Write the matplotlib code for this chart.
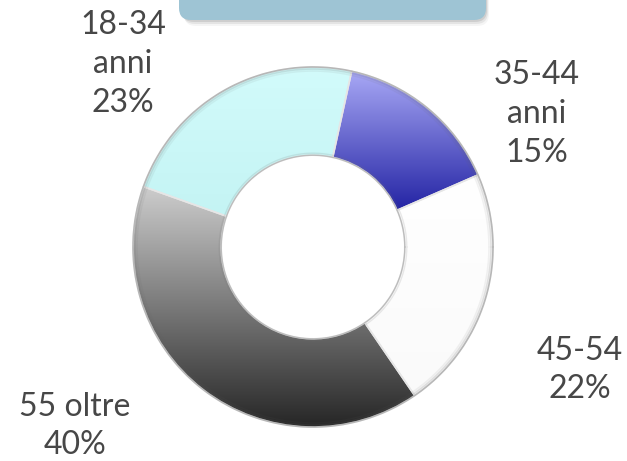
import numpy as np
import matplotlib
matplotlib.use("Agg")
import matplotlib.pyplot as plt
from matplotlib.patches import FancyBboxPatch
from matplotlib.colors import to_rgb

# ---- data ----
labels = ["35-44\nanni", "45-54", "55 oltre", "18-34\nanni"]
values = [15, 22, 40, 23]
pct_labels = ["15%", "22%", "40%", "23%"]
top_colors = ["#a9a9f6", "#ffffff", "#cdcdcd", "#d2fbfb"]
bottom_colors = ["#2424a4", "#fafafa", "#262626", "#c4f4f4"]

W, H = 627, 461
fig = plt.figure(figsize=(W / 100, H / 100), dpi=100)
ax = fig.add_axes([0, 0, 1, 1])

cx, cy, R = 313, H - 247, 180
wedges, _ = ax.pie(values, startangle=77.6, counterclock=False,
                   center=(cx, cy), radius=R,
                   wedgeprops=dict(width=R * 0.49, edgecolor="#e6e6e6",
                                   linewidth=1.2))

for w, ct, cb in zip(wedges, top_colors, bottom_colors):
    ext = w.get_path().get_extents()
    n = 256
    g = np.linspace(0, 1, n)[:, None, None]
    cols = np.array(to_rgb(ct))[None, None, :] * (1 - g) + np.array(to_rgb(cb))[None, None, :] * g
    im = ax.imshow(cols, extent=(ext.x0, ext.x1, ext.y0, ext.y1), origin="upper",
                   aspect="auto", zorder=1, interpolation="bilinear")
    im.set_clip_path(w)
    w.set_facecolor("none")
    w.set_zorder(2)

# soft bevel/shadow lines around the ring
theta = np.linspace(0, 2 * np.pi, 400)
for dr, a in [(0, 0.35), (-2, 0.18), (-4, 0.08)]:
    ax.plot(cx + (R + dr) * np.cos(theta), cy + (R + dr) * np.sin(theta),
            color="#606060", lw=1.2, alpha=a, zorder=3)
ri = R * 0.51
for dr, a in [(0, 0.35), (2, 0.15)]:
    ax.plot(cx + (ri + dr) * np.cos(theta), cy + (ri + dr) * np.sin(theta),
            color="#707070", lw=1.0, alpha=a, zorder=3)

# ---- title box (partially cut off at the top) ----
for off, a in [(6, 0.06), (4, 0.10), (2, 0.15)]:
    ax.add_patch(FancyBboxPatch((181 + off * 0.5, H - 20 - off), 305, 60,
                                boxstyle="round,pad=0,rounding_size=12",
                                fc="#555555", ec="none", alpha=a, zorder=4))
ax.add_patch(FancyBboxPatch((179, H - 20), 307, 60,
                            boxstyle="round,pad=0,rounding_size=12",
                            fc="#9ec4d4", ec="none", zorder=5))

# ---- labels ----
font = dict(family=["Lato", "DejaVu Sans"], fontweight="normal", fontsize=23,
            color="#474747", ha="center", va="center", linespacing=1.37)
label_pos = [(537, 114), (580, 370), (75, 426), (123, 64)]
for lab, pct, (x, y) in zip(labels, pct_labels, label_pos):
    ax.text(x, H - y, lab + "\n" + pct, **font)

ax.set_xlim(0, W)
ax.set_ylim(0, H)
ax.set_aspect("auto")
ax.axis("off")
fig.savefig("out.png", dpi=100)
